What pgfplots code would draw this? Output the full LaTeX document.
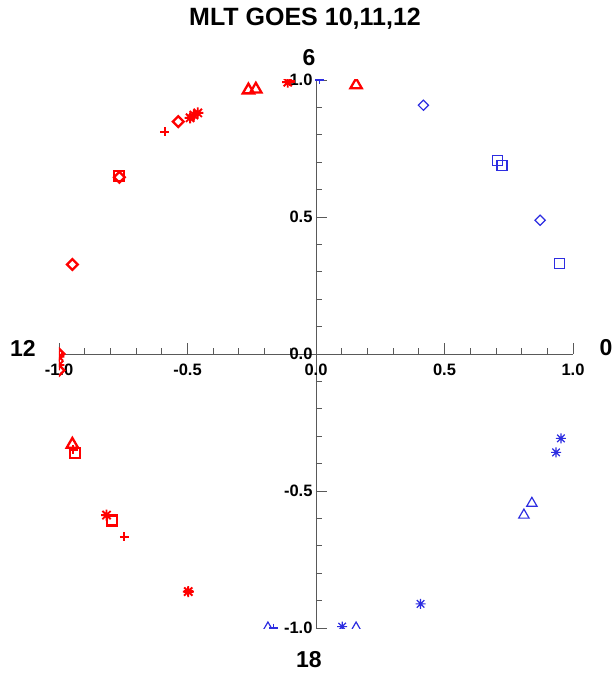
\documentclass[border=0pt]{standalone}
\usepackage{fontspec}
\setmainfont{Liberation Sans}
\usepackage{pgfplots}
\pgfplotsset{compat=1.18}
\definecolor{rd}{RGB}{255,0,0}
\definecolor{bl}{RGB}{45,45,225}
\pgfdeclareplotmark{idlstar}{%
  \pgfpathmoveto{\pgfqpoint{-\pgfplotmarksize}{0pt}}\pgfpathlineto{\pgfqpoint{\pgfplotmarksize}{0pt}}%
  \pgfpathmoveto{\pgfqpoint{0pt}{-\pgfplotmarksize}}\pgfpathlineto{\pgfqpoint{0pt}{\pgfplotmarksize}}%
  \pgfpathmoveto{\pgfqpoint{-0.75\pgfplotmarksize}{-0.75\pgfplotmarksize}}\pgfpathlineto{\pgfqpoint{0.75\pgfplotmarksize}{0.75\pgfplotmarksize}}%
  \pgfpathmoveto{\pgfqpoint{-0.75\pgfplotmarksize}{0.75\pgfplotmarksize}}\pgfpathlineto{\pgfqpoint{0.75\pgfplotmarksize}{-0.75\pgfplotmarksize}}%
  \pgfusepathqstroke}
\pgfdeclareplotmark{idlsquare}{%
  \pgfpathrectangle{\pgfqpoint{-\pgfplotmarksize}{-\pgfplotmarksize}}{\pgfqpoint{2\pgfplotmarksize}{2\pgfplotmarksize}}%
  \pgfusepathqstroke}
\begin{document}
\begin{tikzpicture}[x=1pt,y=1pt]
\begin{axis}[
  at={(0,0)}, anchor=south west,
  scale only axis, width=514pt, height=548pt,
  xmin=-1, xmax=1, ymin=-1, ymax=1,
  axis lines=middle,
  axis line style={-, black!65, line width=0.8pt},
  xtick={-1,-0.5,0,0.5,1}, ytick={-1,-0.5,0,0.5,1},
  minor tick num=4,
  tick align=inside,
  major tick length=10.5pt, minor tick length=5.5pt,
  tick style={black!65, line width=0.8pt},
  hide obscured x ticks=false, hide obscured y ticks=false,
  tick label style={font=\bfseries\fontsize{16.5}{17}\selectfont},
  xticklabel style={yshift=-6pt},
  /pgf/number format/fixed, /pgf/number format/fixed zerofill,
  /pgf/number format/precision=1, /pgf/number format/assume math mode=true,
  clip marker paths=true,
  only marks,
  rmk/.style={color=rd, mark options={draw=rd, line width=2.3pt, fill=none, solid}},
  rmks/.style={color=rd, mark options={draw=rd, line width=1.9pt, fill=none, solid}},
  rmkd/.style={color=rd, mark options={draw=rd, line width=2.3pt, fill=none, solid, rotate=45}},
  bmk/.style={color=bl, mark options={draw=bl, line width=1.2pt, fill=none, solid}},
  bmkd/.style={color=bl, mark options={draw=bl, line width=1.2pt, fill=none, solid, rotate=45}},
]
% blue series
\addplot[bmk, draw=bl, mark=idlsquare, mark size=5pt] coordinates {(0.707,0.706) (0.724,0.689) (0.946,0.331)};
\addplot[bmkd, mark=square, mark size=3.6pt] coordinates {(0.418,0.908) (0.872,0.488)};
\addplot[bmk, mark=idlstar, mark size=5pt] coordinates {(0.953,-0.308) (0.934,-0.359) (0.407,-0.912) (0.102,-0.995)};
\addplot[bmk, mark=triangle, mark size=6pt] coordinates {(0.840,-0.545) (0.809,-0.588) (0.156,-1.0) (-0.187,-1.0)};
\addplot[bmk, mark=+, mark size=4.5pt] coordinates {(0.015,1.0) (-0.165,-1.0)};
% red series
\addplot[rmk, mark=triangle, mark size=6.5pt] coordinates {(-0.263,0.963) (-0.234,0.966) (0.156,0.982) (-0.948,-0.330)};
\addplot[rmk, mark=+, mark size=4.5pt] coordinates {(-0.588,0.811) (-0.746,-0.667) (-0.497,-0.867) (-0.10,0.995) (-0.945,-0.350)};
\addplot[rmks, mark=idlstar, mark size=5.5pt] coordinates {(-0.49,0.862) (-0.475,0.872) (-0.46,0.88) (-0.815,-0.588) (-1.0,-0.01) (-1.0,-0.04) (-0.11,0.992) (-0.497,-0.867)};
\addplot[rmkd, mark=square, mark size=3.8pt] coordinates {(-0.536,0.848) (-0.765,0.645) (-0.948,0.327) (-1.0,0.0) (-1.0,-0.06)};
\addplot[rmk, mark=idlsquare, mark size=5pt] coordinates {(-0.767,0.650) (-0.938,-0.362) (-0.795,-0.608)};
\end{axis}
\node[font=\bfseries\fontsize{25}{25}\selectfont] at (246,609) {MLT GOES 10,11,12};
\node[font=\bfseries\fontsize{23}{23}\selectfont] at (250,570) {6};
\node[font=\bfseries\fontsize{23}{23}\selectfont] at (-36,280) {12};
\node[font=\bfseries\fontsize{23}{23}\selectfont] at (547,280) {0};
\node[font=\bfseries\fontsize{23}{23}\selectfont] at (250,-32) {18};
\pgfresetboundingbox
\useasboundingbox (-59,-45) rectangle (556,628);
\end{tikzpicture}
\end{document}
